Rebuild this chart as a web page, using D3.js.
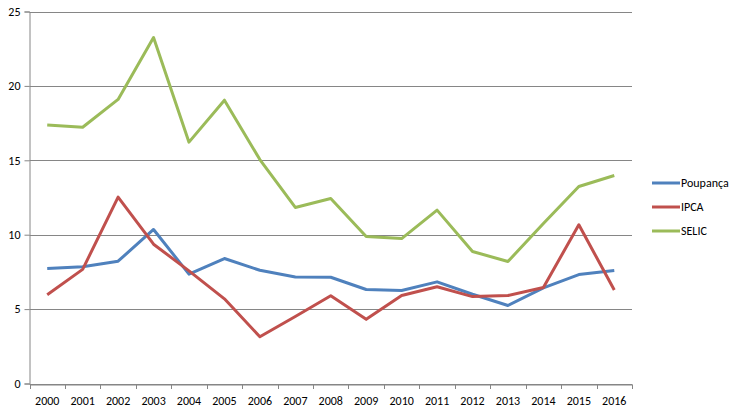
<!DOCTYPE html>
<html lang="pt">
<head>
<meta charset="UTF-8">
<title>Poupança, IPCA e SELIC</title>
<style>
  body { margin: 0; background: #fff; }
  svg text { font-family: Carlito, Lato, "Open Sans", sans-serif; font-size: 12px; fill: #000; }
</style>
</head>
<body>
<svg id="chart" width="739" height="413"></svg>
<script src="https://d3js.org/d3.v7.min.js"></script>
<script>
const years = ["2000","2001","2002","2003","2004","2005","2006","2007","2008","2009","2010","2011","2012","2013","2014","2015","2016"];
const poupanca = [7.73, 7.84, 8.22, 10.35, 7.35, 8.40, 7.61, 7.16, 7.14, 6.32, 6.25, 6.83, 6.00, 5.24, 6.43, 7.32, 7.59];
const ipca     = [5.97, 7.67, 12.53, 9.36, 7.57, 5.69, 3.14, 4.50, 5.90, 4.31, 5.91, 6.50, 5.84, 5.91, 6.45, 10.67, 6.28];
const selic    = [17.38, 17.22, 19.09, 23.25, 16.22, 19.04, 15.05, 11.83, 12.43, 9.88, 9.74, 11.65, 8.87, 8.20, 10.75, 13.24, 13.98];
const yTicks = [0, 5, 10, 15, 20, 25];

const series = [
  { name: "Poupança", values: poupanca, color: "#4F81BD" },
  { name: "IPCA", values: ipca, color: "#C0504D" },
  { name: "SELIC", values: selic, color: "#9BBB59" }
];

const margin = { top: 11.5, left: 29.5, right: 107, bottom: 30 };
const width = 739, height = 413;
const svg = d3.select("#chart");

const x = d3.scaleBand().domain(years).range([margin.left, width - margin.right]);
const y = d3.scaleLinear().domain([0, 25]).range([383.5, margin.top]);

// gridlines
svg.append("g")
  .selectAll("line")
  .data(yTicks)
  .join("line")
  .attr("x1", margin.left)
  .attr("x2", width - margin.right)
  .attr("y1", d => Math.round(y(d)) + 0.5)
  .attr("y2", d => Math.round(y(d)) + 0.5)
  .attr("stroke", "#868686");

// y axis
const yAxis = svg.append("g")
  .attr("transform", `translate(${margin.left},0)`)
  .call(d3.axisLeft(y).tickValues(yTicks).tickSize(5).tickPadding(4).tickFormat(d3.format("d")));
yAxis.select(".domain").attr("stroke", "#868686");
yAxis.selectAll(".tick line").attr("stroke", "#868686");
yAxis.selectAll("text").attr("font-size", 12);

// x axis
const xAxis = svg.append("g")
  .attr("transform", `translate(0,${Math.round(y(0)) + 0.5})`)
  .call(d3.axisBottom(x).tickSize(0).tickPadding(12));
xAxis.select(".domain").attr("stroke", "#868686");
xAxis.selectAll("text").attr("font-size", 12);

// x tick marks on band boundaries
svg.append("g")
  .selectAll("line")
  .data(years.concat(["end"]))
  .join("line")
  .attr("x1", (d, i) => Math.round(margin.left + i * x.step()) + 0.5)
  .attr("x2", (d, i) => Math.round(margin.left + i * x.step()) + 0.5)
  .attr("y1", Math.round(y(0)) + 0.5)
  .attr("y2", Math.round(y(0)) + 5)
  .attr("stroke", "#868686");

// lines
const line = d3.line()
  .x((d, i) => x(years[i]) + x.bandwidth() / 2)
  .y(d => y(d));

svg.append("g")
  .selectAll("path")
  .data(series)
  .join("path")
  .attr("fill", "none")
  .attr("stroke", d => d.color)
  .attr("stroke-width", 3)
  .attr("stroke-linejoin", "round")
  .attr("d", d => line(d.values));

// legend
const legend = svg.append("g")
  .selectAll("g")
  .data(series)
  .join("g")
  .attr("transform", (d, i) => `translate(652,${183 + i * 24})`);
legend.append("line")
  .attr("x1", 0).attr("x2", 28)
  .attr("stroke", d => d.color)
  .attr("stroke-width", 3);
legend.append("text")
  .attr("x", 29)
  .attr("dy", "0.35em")
  .text(d => d.name);
</script>
</body>
</html>
